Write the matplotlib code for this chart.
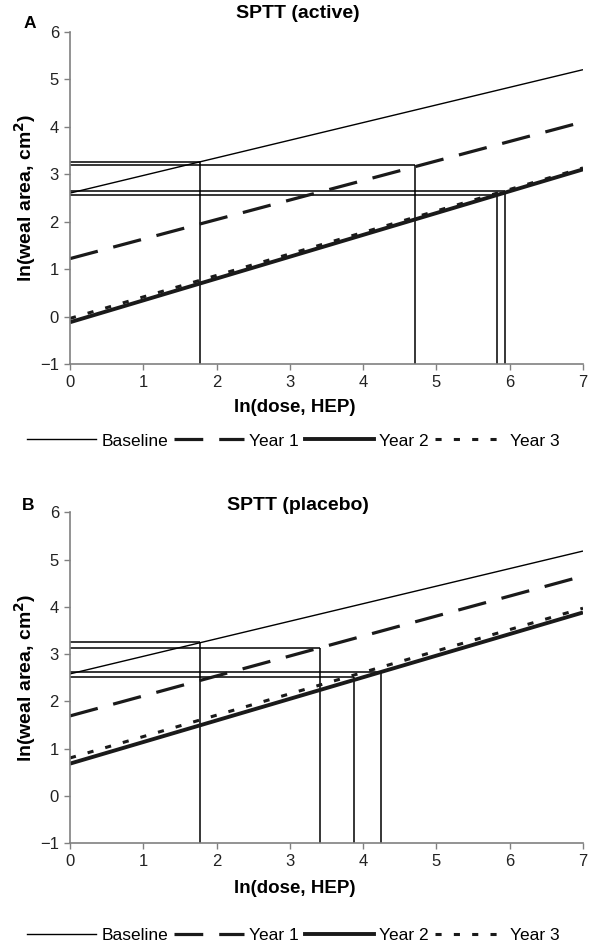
import matplotlib
matplotlib.use("Agg")
import matplotlib.pyplot as plt
from matplotlib.lines import Line2D

plt.rcParams['font.family'] = ['Liberation Sans', 'DejaVu Sans']

# ---------------- data ----------------
x_range = [0, 7]
series_names = ["Baseline", "Year 1", "Year 2", "Year 3"]

# Panel A (active): line value at ln(dose)=0 and ln(dose)=7
a_baseline = [2.60, 5.20]
a_year1 = [1.22, 4.10]
a_year2 = [-0.12, 3.10]
a_year3 = [-0.04, 3.13]
# reference drop points (dose, wheal)
a_ref_x = [1.78, 4.71, 5.83, 5.93]
a_ref_y = [3.26, 3.19, 2.57, 2.64]

# Panel B (placebo)
b_baseline = [2.58, 5.18]
b_year1 = [1.69, 4.65]
b_year2 = [0.68, 3.88]
b_year3 = [0.80, 3.97]
b_ref_x = [1.775, 3.41, 3.88, 4.24]
b_ref_y = [3.25, 3.13, 2.52, 2.63]

y_ticks = [-1, 0, 1, 2, 3, 4, 5, 6]
x_ticks = [0, 1, 2, 3, 4, 5, 6, 7]

styles = {
    "Baseline": dict(color="black", lw=1.0, ls="-"),
    "Year 1": dict(color="#1a1a1a", lw=2.3, ls=(0, (9, 5))),
    "Year 2": dict(color="#1a1a1a", lw=2.8, ls="-"),
    "Year 3": dict(color="#1a1a1a", lw=2.2, ls=(0, (2, 4))),
}

W, H = 590, 947
fig = plt.figure(figsize=(W / 100, H / 100), dpi=100)

def fx(px):
    return px / W

def fy(py):
    return 1 - py / H

def draw_panel(ax, lines, ref_x, ref_y):
    for rx, ry in zip(ref_x, ref_y):
        ax.plot([0, rx], [ry, ry], color="black", lw=1.1, solid_capstyle="butt")
        ax.plot([rx, rx], [-1, ry], color="black", lw=1.1, solid_capstyle="butt")
    for name, vals in zip(series_names, lines):
        ax.plot(x_range, vals, label=name, solid_capstyle="butt",
                dash_capstyle="butt", **styles[name])
    ax.set_xlim(0, 7)
    ax.set_ylim(-1, 6)
    ax.set_xticks(x_ticks)
    ax.set_yticks(y_ticks)
    for s in ["top", "right"]:
        ax.spines[s].set_visible(False)
    for s in ["left", "bottom"]:
        ax.spines[s].set_color("#808080")
        ax.spines[s].set_linewidth(1.2)
    ax.tick_params(axis="both", direction="out", length=4, width=1.0,
                   color="#808080", labelsize=12, labelcolor="#222222", pad=4)
    ax.set_ylabel("ln(weal area, cm$^\\mathbf{2}$)", fontsize=14,
                  fontweight="bold", labelpad=1)
    ax.patch.set_alpha(0)

axA = fig.add_axes([fx(70), fy(364), fx(583 - 70), (364 - 31.7) / H])
draw_panel(axA, [a_baseline, a_year1, a_year2, a_year3], a_ref_x, a_ref_y)
axB = fig.add_axes([fx(70), fy(843), fx(583 - 70), (843 - 512.3) / H])
draw_panel(axB, [b_baseline, b_year1, b_year2, b_year3], b_ref_x, b_ref_y)

fig.text(fx(298), fy(13), "SPTT (active)", ha="center", va="center",
         fontsize=14, fontweight="bold")
fig.text(fx(298), fy(506), "SPTT (placebo)", ha="center", va="center",
         fontsize=14, fontweight="bold")
fig.text(fx(30), fy(24), "A", ha="center", va="center", fontsize=12.5, fontweight="bold")
fig.text(fx(28), fy(506), "B", ha="center", va="center", fontsize=12.5, fontweight="bold")

fig.text(fx(295), fy(407), "ln(dose, HEP)", ha="center", va="center",
         fontsize=13.5, fontweight="bold")
fig.text(fx(295), fy(888), "ln(dose, HEP)", ha="center", va="center",
         fontsize=13.5, fontweight="bold")

handles = [Line2D([], [], **styles[n]) for n in series_names]
for yc in (441, 935):
    fig.legend(handles, series_names, loc="center", bbox_to_anchor=(fx(293), fy(yc)),
               ncol=4, frameon=False, fontsize=12.5, handlelength=4.0,
               handletextpad=0.3, columnspacing=0.35, borderaxespad=0)

fig.savefig("out.png", dpi=100)
